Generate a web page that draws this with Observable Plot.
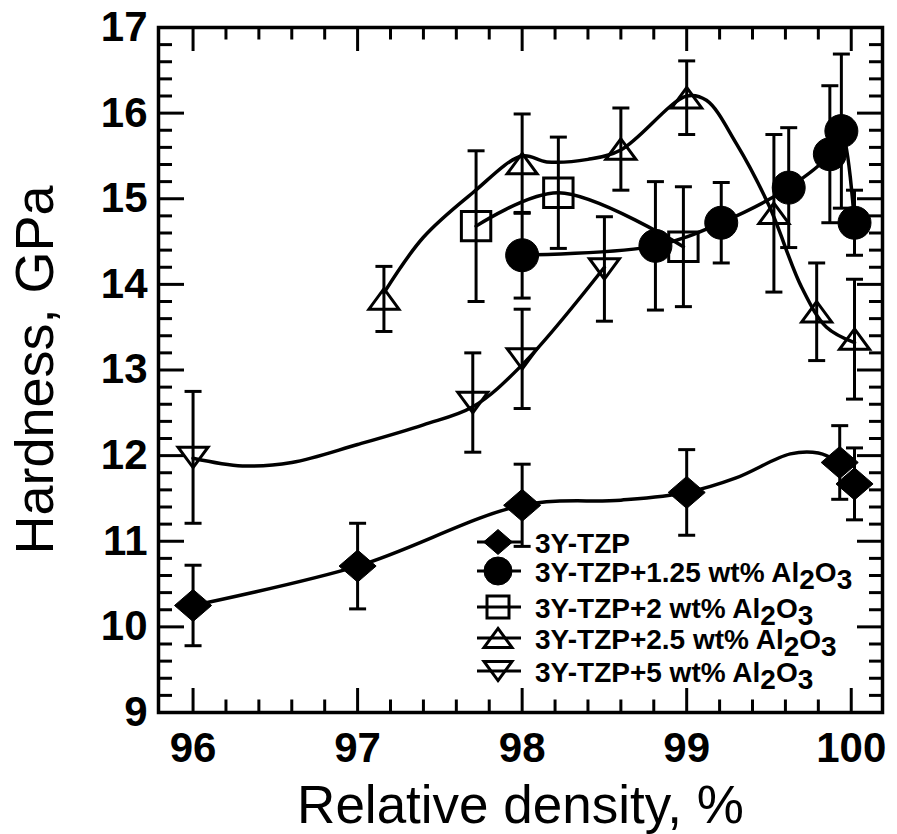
<!DOCTYPE html>
<html><head><meta charset="utf-8">
<script src="https://cdn.jsdelivr.net/npm/d3@7"></script>
<script src="https://cdn.jsdelivr.net/npm/@observablehq/plot@0.6"></script>
<style>
html,body{margin:0;padding:0;background:#fff;}
#chart{width:897px;height:834px;}
</style></head><body><div id="chart"></div>
<script>
// ---- data ----
const tzpX = [96, 97, 98, 99, 99.93, 100.02];
const tzpY = [10.25, 10.71, 11.42, 11.57, 11.92, 11.67];
const tzpErr = [0.47, 0.5, 0.48, 0.5, 0.43, 0.42];

const al125X = [98, 98.81, 99.21, 99.62, 99.87, 99.94, 100.02];
const al125Y = [14.34, 14.45, 14.72, 15.13, 15.52, 15.79, 14.72];
const al125Err = [0.5, 0.75, 0.47, 0.7, 0.8, 0.9, 0.38];

const al2X = [97.72, 98.22, 98.98];
const al2Y = [14.68, 15.07, 14.44];
const al2Err = [0.88, 0.65, 0.7];

const al25X = [97.16, 98, 98.6, 99, 99.53, 99.79, 100.02];
const al25Y = [13.83, 15.41, 15.58, 16.18, 14.83, 13.68, 13.36];
const al25Err = [0.38, 0.58, 0.48, 0.43, 0.92, 0.57, 0.7];

const al5X = [96, 97.7, 98, 98.5];
const al5Y = [11.98, 12.62, 13.13, 14.18];
const al5Err = [0.77, 0.58, 0.58, 0.61];

// fitted guide curves (knots)
const tzpFitX = [96, 97, 98, 98.6, 99, 99.3, 99.63, 99.8, 99.93];
const tzpFitY = [10.25, 10.71, 11.42, 11.48, 11.57, 11.74, 12.02, 12.03, 11.92];
const al125FitX = [98, 98.81, 99.21, 99.62, 99.87, 99.94, 100.02];
const al125FitY = [14.34, 14.45, 14.72, 15.13, 15.52, 15.79, 14.72];
const al2FitX = [97.72, 98.22, 98.98];
const al2FitY = [14.68, 15.07, 14.44];
const al25FitX = [97.16, 97.4, 97.7, 98, 98.15, 98.4, 98.6, 99, 99.12, 99.3, 99.5, 99.7, 99.85, 100.02];
const al25FitY = [13.9, 14.55, 15.07, 15.5, 15.43, 15.46, 15.57, 16.2, 16.15, 15.65, 14.92, 13.96, 13.5, 13.32];
const al5FitX = [96, 96.3, 96.6, 97, 97.4, 97.7, 98, 98.5];
const al5FitY = [11.97, 11.88, 11.92, 12.13, 12.36, 12.57, 13.06, 14.2];

const seriesPrefix = ["3Y-TZP", "3Y-TZP+1.25 wt%", "3Y-TZP+2 wt%", "3Y-TZP+2.5 wt%", "3Y-TZP+5 wt%"];
const seriesHasAl2O3 = [false, true, true, true, true];

const xMajorTicks = [96, 97, 98, 99, 100];
const yMajorTicks = [9, 10, 11, 12, 13, 14, 15, 16, 17];
const xMinorTicks = [96.2, 96.4, 96.6, 96.8, 97.2, 97.4, 97.6, 97.8, 98.2, 98.4, 98.6, 98.8, 99.2, 99.4, 99.6, 99.8];
const yMinorTicks = [9.2, 9.4, 9.6, 9.8, 10.2, 10.4, 10.6, 10.8, 11.2, 11.4, 11.6, 11.8, 12.2, 12.4, 12.6, 12.8,
  13.2, 13.4, 13.6, 13.8, 14.2, 14.4, 14.6, 14.8, 15.2, 15.4, 15.6, 15.8, 16.2, 16.4, 16.6, 16.8];

const xTitle = "Relative density, %";
const yTitle = "Hardness, GPa";

// ---- layout ----
const W = 897, H = 834, mL = 158, mR = 15, mT = 27, mB = 122;
const xDom = [95.79, 100.19], yDom = [9, 17];
const xPerPx = (xDom[1] - xDom[0]) / (W - mL - mR);
const yPerPx = (yDom[1] - yDom[0]) / (H - mT - mB);

// ---- symbols ----
const symK = size => Math.sqrt(size / Math.PI);
const diamondSym = {draw(c, s) { const r = symK(s), w = 1.03 * r, h = 0.89 * r; c.moveTo(0, -h); c.lineTo(w, 0); c.lineTo(0, h); c.lineTo(-w, 0); c.closePath(); }};
const squareSym = {draw(c, s) { const r = symK(s); c.moveTo(-r, -r); c.lineTo(r, -r); c.lineTo(r, r); c.lineTo(-r, r); c.closePath(); }};
const triUpSym = {draw(c, s) { const r = symK(s), h = 0.68 * r; c.moveTo(0, -h); c.lineTo(r, h); c.lineTo(-r, h); c.closePath(); }};
const triDownSym = {draw(c, s) { const r = symK(s), h = 0.68 * r; c.moveTo(0, h); c.lineTo(r, -h); c.lineTo(-r, -h); c.closePath(); }};
const capSym = {draw(c, s) { c.moveTo(-8.5, 0); c.lineTo(8.5, 0); }};
const circleSym = d3.symbolCircle;

const seriesDefs = [
  {x: tzpX, y: tzpY, e: tzpErr, sym: diamondSym, r: 18, fill: "black", fx: tzpFitX, fy: tzpFitY, lr: 14},
  {x: al125X, y: al125Y, e: al125Err, sym: circleSym, r: 16.5, fill: "black", fx: al125FitX, fy: al125FitY, lr: 14},
  {x: al2X, y: al2Y, e: al2Err, sym: squareSym, r: 14.7, fill: "none", fx: al2FitX, fy: al2FitY, lr: 11},
  {x: al25X, y: al25Y, e: al25Err, sym: triUpSym, r: 15, fill: "none", fx: al25FitX, fy: al25FitY, lr: 14},
  {x: al5X, y: al5Y, e: al5Err, sym: triDownSym, r: 15, fill: "none", fx: al5FitX, fy: al5FitY, lr: 14}
];

const pointRows = seriesDefs.flatMap((s, si) => s.x.map((x, i) => ({si, x, y: s.y[i], lo: s.y[i] - s.e[i], hi: s.y[i] + s.e[i]})));
const fitRows = seriesDefs.flatMap((s, si) => s.fx.map((x, i) => ({si, x, y: s.fy[i]})));

// inward frame ticks as rules (lengths given in pixels, converted to data units)
const xTickRules = (vals, lenPx) => [
  Plot.ruleX(vals, {x: d => d, y1: yDom[0], y2: yDom[0] + lenPx * yPerPx, stroke: "black", strokeWidth: 3}),
  Plot.ruleX(vals, {x: d => d, y1: yDom[1], y2: yDom[1] - lenPx * yPerPx, stroke: "black", strokeWidth: 3})
];
const yTickRules = (vals, lenL, lenR) => [
  Plot.ruleY(vals, {y: d => d, x1: xDom[0], x2: xDom[0] + lenL * xPerPx, stroke: "black", strokeWidth: 3}),
  Plot.ruleY(vals, {y: d => d, x1: xDom[1], x2: xDom[1] - lenR * xPerPx, stroke: "black", strokeWidth: 3})
];

const plotMarks = [
  Plot.frame({stroke: "black", strokeWidth: 3.5}),
  ...xTickRules(xMajorTicks, 24),
  ...xTickRules(xMinorTicks, 12.5),
  ...yTickRules(yMajorTicks, 26, 25),
  ...yTickRules(yMinorTicks, 14, 13),
  // tick labels
  Plot.axisX(xMajorTicks, {anchor: "bottom", tickSize: 0, tickPadding: 20, fontSize: 42, fontWeight: "bold", label: null, tickFormat: d => String(d)}),
  Plot.axisY(yMajorTicks, {anchor: "left", tickSize: 0, tickPadding: 11, fontSize: 42, fontWeight: "bold", label: null, tickFormat: d => String(d)}),
  // titles
  Plot.text([xTitle], {text: d => d, frameAnchor: "bottom", textAnchor: "middle", dy: 110, lineAnchor: "bottom", fontSize: 53}),
  Plot.text([yTitle], {text: d => d, frameAnchor: "left", textAnchor: "middle", dx: -106, rotate: -90, lineAnchor: "bottom", fontSize: 54}),
  // error bars
  Plot.ruleX(pointRows, {x: "x", y1: "lo", y2: "hi", stroke: "black", strokeWidth: 3}),
  Plot.dot(pointRows, {x: "x", y: "lo", symbol: capSym, r: 3, fill: "none", stroke: "black", strokeWidth: 3}),
  Plot.dot(pointRows, {x: "x", y: "hi", symbol: capSym, r: 3, fill: "none", stroke: "black", strokeWidth: 3}),
  // guide curves
  Plot.line(fitRows, {x: "x", y: "y", z: "si", curve: "catmull-rom", stroke: "black", strokeWidth: 3.5}),
  // markers
  ...seriesDefs.map((s, si) => Plot.dot(pointRows.filter(p => p.si === si), {
    x: "x", y: "y", symbol: s.sym, r: s.r,
    fill: s.fill, stroke: "black", strokeWidth: s.fill === "none" ? 3 : 1
  }))
];

const chartEl = Plot.plot({
  width: W, height: H,
  marginLeft: mL, marginRight: mR, marginTop: mT, marginBottom: mB,
  x: {domain: xDom},
  y: {domain: yDom},
  style: {fontFamily: "'Liberation Sans', Arial, Helvetica, sans-serif", background: "white", color: "black"},
  marks: plotMarks
});
document.getElementById("chart").appendChild(chartEl);
const chartSvg = d3.select(chartEl);

// ---- legend (inside the frame, lower right) ----
try {
  const legendRowsY = [542, 571, 607, 638, 671];
  const lg = chartSvg.append("g").attr("class", "legend").attr("text-anchor", "start");
  seriesDefs.forEach((s, i) => {
    const ly = legendRowsY[i];
    lg.append("line").attr("x1", 477).attr("x2", 521).attr("y1", ly).attr("y2", ly)
      .attr("stroke", "black").attr("stroke-width", 3);
    lg.append("path").attr("transform", `translate(498,${ly})`)
      .attr("d", d3.symbol(s.sym, Math.PI * s.lr * s.lr)())
      .attr("fill", s.fill).attr("stroke", "black").attr("stroke-width", s.fill === "none" ? 3 : 1);
    const t = lg.append("text").attr("x", 535).attr("y", ly + 11).attr("text-anchor", "start")
      .attr("font-size", 28).attr("font-weight", "bold")
      .attr("font-family", "'Liberation Sans', Arial, sans-serif").attr("fill", "black");
    t.append("tspan").text(seriesPrefix[i] + (seriesHasAl2O3[i] ? " Al" : ""));
    if (seriesHasAl2O3[i]) {
      t.append("tspan").attr("dy", 7).text("2");
      t.append("tspan").attr("dy", -7).text("O");
      t.append("tspan").attr("dy", 7).text("3");
    }
  });
} catch (e) { console.error(e); }
</script></body></html>
